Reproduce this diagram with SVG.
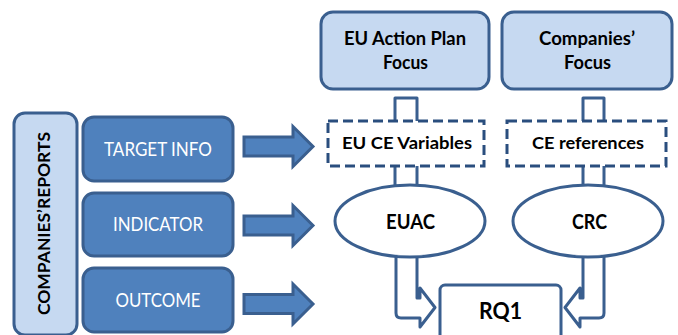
<svg xmlns="http://www.w3.org/2000/svg" width="678" height="335" viewBox="0 0 678 335">
  <defs>
    <style>
      .light { fill: #C6D9F1; stroke: #3A5F8F; stroke-width: 3; }
      .dark { fill: #4F81BD; stroke: #3A5F8F; stroke-width: 3; }
      .plain { fill: #FFFFFF; stroke: #3A5F8F; stroke-width: 3; }
      .dash { fill: #FFFFFF; stroke: #2A4E7E; stroke-width: 3; stroke-dasharray: 10 5; }
      .tube { fill: #FFFFFF; stroke: #3A5F8F; stroke-width: 3; stroke-linejoin: round; }
      .arrow { fill: #4F81BD; stroke: #3A5F8F; stroke-width: 3; stroke-linejoin: miter; }
      .wt { font-family: Lato, "Liberation Sans", sans-serif; fill: #FFFFFF; font-size: 18.5px; text-anchor: middle; }
      .bt { font-family: Lato, "Liberation Sans", sans-serif; fill: #000000; font-weight: bold; text-anchor: middle; }
    </style>
    <path id="blockArrow" d="M0,-9.5 H49 V-20 L69,0 L49,20 V9.5 H0 Z"/>
    <path id="bentArrow" d="M396,240 V313 Q396,318 401,318 H420 V327 L435,307.5 L420,288 V298 H417 V240"/>
  </defs>

  <rect width="678" height="335" fill="#FFFFFF"/>

  <!-- connectors -->
  <g id="connectors">
    <!-- side block arrows -->
    <use href="#blockArrow" class="arrow" transform="translate(244,146.5)"/>
    <use href="#blockArrow" class="arrow" transform="translate(244,225.5)"/>
    <use href="#blockArrow" class="arrow" transform="translate(244,304)"/>
    <!-- focus boxes to variable boxes -->
    <path class="tube" d="M395,123 V98 H417 V123"/>
    <path class="tube" d="M583,123 V98 H604 V123"/>
    <!-- variable boxes to ellipses -->
    <path class="tube" d="M395,165 V200 H417 V165"/>
    <path class="tube" d="M583,165 V200 H604 V165"/>
    <!-- ellipses to RQ1 -->
    <use href="#bentArrow" class="tube"/>
    <use href="#bentArrow" class="tube" transform="translate(1000,0) scale(-1,1)"/>
  </g>

  <g id="companies-reports">
    <rect class="light" x="14" y="113" width="63" height="222" rx="11"/>
    <text class="bt" font-size="17.5" transform="translate(50,223.5) rotate(-90)" textLength="183" lengthAdjust="spacingAndGlyphs">COMPANIES’REPORTS</text>
  </g>

  <g id="target-info">
    <rect class="dark" x="83" y="117" width="150" height="64" rx="11"/>
    <text class="wt" x="158" y="156" textLength="108" lengthAdjust="spacingAndGlyphs">TARGET INFO</text>
  </g>

  <g id="indicator">
    <rect class="dark" x="83" y="193" width="150" height="63" rx="11"/>
    <text class="wt" x="158" y="231" textLength="90" lengthAdjust="spacingAndGlyphs">INDICATOR</text>
  </g>

  <g id="outcome">
    <rect class="dark" x="83" y="268" width="150" height="64" rx="11"/>
    <text class="wt" x="158" y="307" textLength="85" lengthAdjust="spacingAndGlyphs">OUTCOME</text>
  </g>

  <g id="eu-action-plan-focus">
    <rect class="light" x="321" y="12" width="168" height="77" rx="12"/>
    <text class="bt" font-size="18.5" x="405" y="45" textLength="122" lengthAdjust="spacingAndGlyphs">EU Action Plan</text>
    <text class="bt" font-size="18.5" x="405.5" y="69" textLength="45" lengthAdjust="spacingAndGlyphs">Focus</text>
  </g>

  <g id="companies-focus">
    <rect class="light" x="502" y="12" width="170" height="77" rx="12"/>
    <text class="bt" font-size="18.5" x="587" y="45" textLength="96" lengthAdjust="spacingAndGlyphs">Companies’</text>
    <text class="bt" font-size="18.5" x="587.5" y="69" textLength="47" lengthAdjust="spacingAndGlyphs">Focus</text>
  </g>

  <g id="eu-ce-variables">
    <rect class="dash" x="328" y="121" width="156" height="45"/>
    <text class="bt" font-size="17" x="407" y="148.5" textLength="130" lengthAdjust="spacingAndGlyphs">EU CE Variables</text>
  </g>

  <g id="ce-references">
    <rect class="dash" x="507" y="121" width="159" height="45"/>
    <text class="bt" font-size="17" x="588" y="148.5" textLength="112" lengthAdjust="spacingAndGlyphs">CE references</text>
  </g>

  <g id="euac">
    <ellipse class="plain" cx="410" cy="221" rx="75" ry="36"/>
    <text class="bt" font-size="20" x="410.5" y="228.5" textLength="49" lengthAdjust="spacingAndGlyphs">EUAC</text>
  </g>

  <g id="crc">
    <ellipse class="plain" cx="588" cy="221" rx="75" ry="36"/>
    <text class="bt" font-size="20" x="589.5" y="228.5" textLength="35" lengthAdjust="spacingAndGlyphs">CRC</text>
  </g>

  <g id="rq1">
    <rect class="plain" x="440" y="285" width="121" height="62" rx="5"/>
    <text class="bt" font-size="23" x="500.5" y="318.5" textLength="43" lengthAdjust="spacingAndGlyphs">RQ1</text>
  </g>
</svg>
